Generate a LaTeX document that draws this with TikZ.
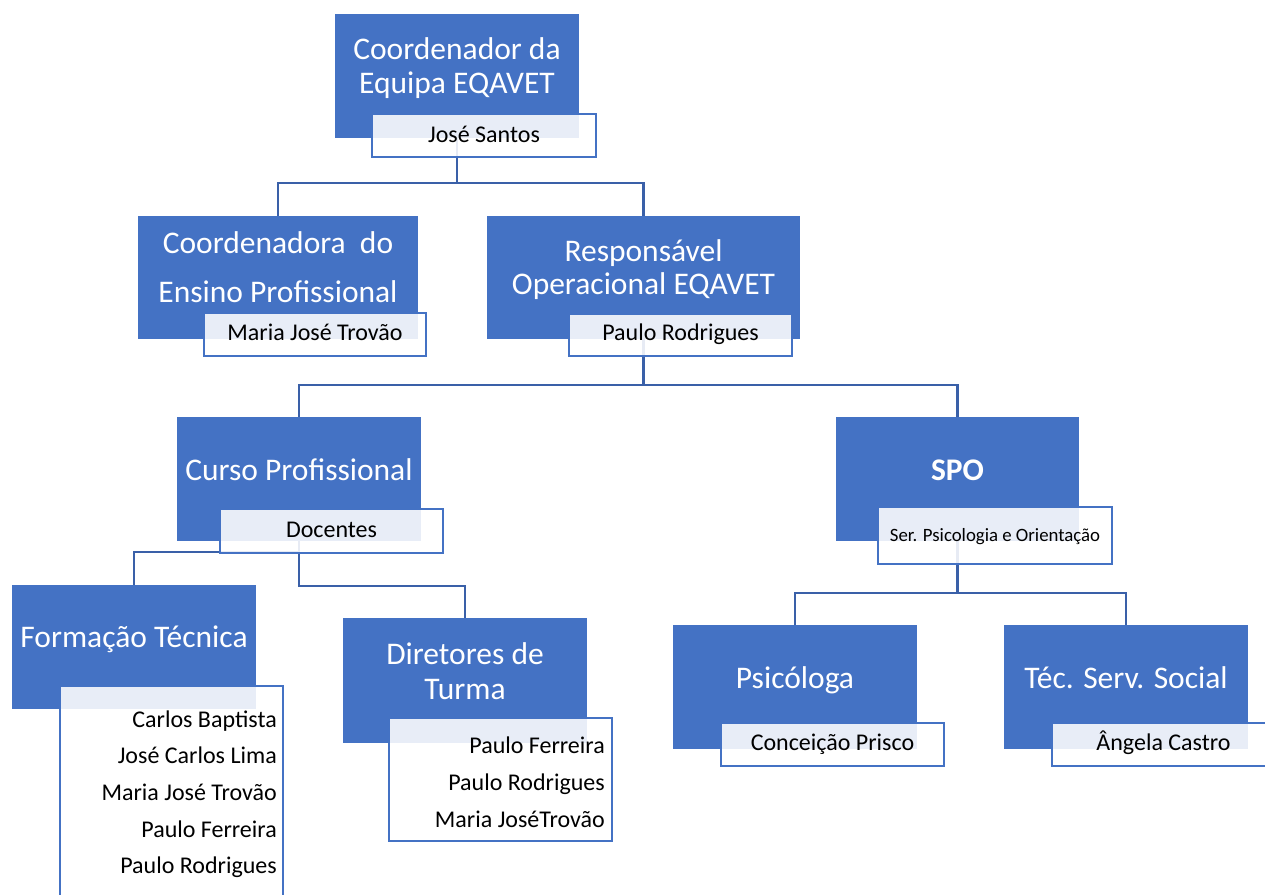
\documentclass[tikz,border=0pt]{standalone}
\usepackage{fontspec}
\setmainfont{Carlito}
\definecolor{boxblue}{HTML}{4472C4}
\definecolor{linkblue}{HTML}{3A60A8}
\newcommand\bigfnt{\fontsize{31.5}{34}\selectfont}
\newcommand\midfnt{\fontsize{24}{26}\selectfont}
\newcommand\smlfnt{\fontsize{18.8}{21}\selectfont}
\tikzset{
  box/.style={fill=boxblue, draw=none, inner sep=0pt, outer sep=0pt, anchor=north west},
  lbl/.style={draw=boxblue, line width=2.2pt, fill=white, fill opacity=0.88, inner sep=0pt, outer sep=0pt, anchor=north west},
  wt/.style={text=white, font=\bigfnt, anchor=base, inner sep=0pt},
  bt/.style={text=black, font=\midfnt, anchor=base, inner sep=0pt},
  rt/.style={text=black, font=\midfnt, anchor=base east, inner sep=0pt},
  link/.style={draw=linkblue, line width=2.4pt}
}
\begin{document}
\begin{tikzpicture}[x=1pt,y=-1pt]
\useasboundingbox (0,0) rectangle (1265,894);
\clip (0,0) rectangle (1265,894);
\fill[white] (0,0) rectangle (1265,894);

% blue boxes
\node[box, minimum width=244pt, minimum height=124pt] (A) at (335,14) {};
\node[box, minimum width=280pt, minimum height=123pt] (B) at (138,216) {};
\node[box, minimum width=313pt, minimum height=123pt] (C) at (487,216) {};
\node[box, minimum width=244pt, minimum height=124pt] (D) at (177,417) {};
\node[box, minimum width=243pt, minimum height=124pt] (E) at (836,417) {};
\node[box, minimum width=244pt, minimum height=124pt] (F) at (12,585) {};
\node[box, minimum width=244pt, minimum height=125pt] (G) at (343,618) {};
\node[box, minimum width=244pt, minimum height=124pt] (H) at (673,625) {};
\node[box, minimum width=244pt, minimum height=124pt] (I) at (1004,625) {};

% connectors (under the labels)
\draw[link] (A.south) -- ++(0,45) -| (B.north);
\draw[link] (A.south) -- ++(0,45) -| (C.north);
\draw[link] (C.south) -- ++(0,46) -| (D.north);
\draw[link] (C.south) -- ++(0,46) -| (E.north);
\draw[link] (D.south) -- ++(0,11) -| (F.north);
\draw[link] (D.south) -- ++(0,45) -| (G.north);
\draw[link] (E.south) -- ++(0,52) -| (H.north);
\draw[link] (E.south) -- ++(0,52) -| (I.north);

% labels
\node[lbl, minimum width=224pt, minimum height=43pt] (LA) at (372,114) {};
\node[lbl, minimum width=222pt, minimum height=43pt] (LB) at (204,313) {};
\node[lbl, minimum width=223pt, minimum height=42pt] (LC) at (569,314) {};
\node[lbl, minimum width=223pt, minimum height=44pt] (LD) at (220,509) {};
\node[lbl, minimum width=234pt, minimum height=57pt] (LE) at (878,507) {};
\node[lbl, minimum width=223pt, minimum height=230pt] (LF) at (60,686) {};
\node[lbl, minimum width=223pt, minimum height=123pt] (LG) at (389,718) {};
\node[lbl, minimum width=223pt, minimum height=43pt] (LH) at (721,723) {};
\node[lbl, minimum width=223pt, minimum height=43pt] (LI) at (1052,723) {};

% box texts
\node[wt] (A1) at (457,59) {Coordenador da};
\node[wt] (A2) at (457,93) {Equipa EQAVET};
\node[wt] (B1) at (278,253) {Coordenadora\ \ do};
\node[wt] (B2) at (278,302) {Ensino Profissional};
\node[wt] (C1) at (643.5,261) {Responsável};
\node[wt] (C2) at (643.5,294) {Operacional EQAVET};
\node[wt] (D1) at (299,480) {Curso Profissional};
\node[wt, font=\bigfnt\bfseries] (E1) at (957.5,480) {SPO};
\node[wt] (F1) at (134,647) {Formação Técnica};
\node[wt] (G1) at (465,664) {Diretores de};
\node[wt] (G2) at (465,699) {Turma};
\node[wt] (H1) at (795,688) {Psicóloga};
\node[wt] (I1) at (1126,688) {Téc. Serv. Social};

% label texts
\node[bt] (LA1) at (484,142) {José Santos};
\node[bt] (LB1) at (315,340) {Maria José Trovão};
\node[bt] (LC1) at (680.5,340) {Paulo Rodrigues};
\node[bt] (LD1) at (331.5,537) {Docentes};
\node[bt, font=\smlfnt] (LE1) at (995,541) {Ser. Psicologia e Orientação};
\node[rt] (LF1) at (277,727) {Carlos Baptista};
\node[rt] (LF2) at (277,763) {José Carlos Lima};
\node[rt] (LF3) at (277,800) {Maria José Trovão};
\node[rt] (LF4) at (277,837) {Paulo Ferreira};
\node[rt] (LF5) at (277,873) {Paulo Rodrigues};
\node[rt] (LG1) at (605,753) {Paulo Ferreira};
\node[rt] (LG2) at (605,790) {Paulo Rodrigues};
\node[rt] (LG3) at (605,827) {Maria JoséTrovão};
\node[bt] (LH1) at (832.5,750) {Conceição Prisco};
\node[bt] (LI1) at (1163.5,750) {Ângela Castro};
\end{tikzpicture}
\end{document}
